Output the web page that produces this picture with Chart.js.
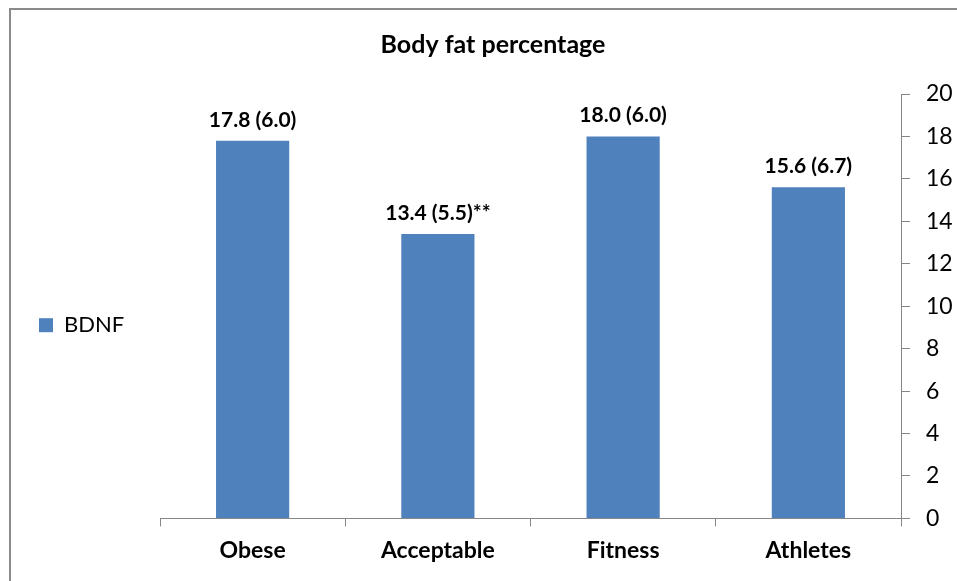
<!DOCTYPE html>
<html>
<head>
<meta charset="utf-8">
<script src="https://cdn.jsdelivr.net/npm/chart.js@4.4.1/dist/chart.umd.min.js"></script>
<style>
  html, body { margin: 0; padding: 0; background: #fff; overflow: hidden; }
  #wrap { position: relative; width: 957px; height: 581px; }
  #frame { position: absolute; left: 9px; top: 8px; width: 2000px; height: 2000px;
           border: 2px solid #8a8a8a; box-sizing: border-box; }
  canvas { position: absolute; left: 0; top: 0; }
</style>
</head>
<body>
<div id="wrap">
  <div id="frame"></div>
  <canvas id="chart" width="957" height="581"></canvas>
</div>
<script>
// Body fat percentage by group: mean (SD)
const categories = ["Obese", "Acceptable", "Fitness", "Athletes"];
const means = [17.8, 13.4, 18.0, 15.6];
const sds = [6.0, 5.5, 6.0, 6.7];
const marks = ["", "**", "", ""];
const yTicks = [0, 2, 4, 6, 8, 10, 12, 14, 16, 18, 20];

const barLabels = means.map((m, i) => m.toFixed(1) + " (" + sds[i].toFixed(1) + ")" + marks[i]);

const axisGray = "#868686";
const LEGEND_WIDTH = 131;   // room between the frame and the plot area
const Y_AXIS_WIDTH = 56;

// Draws "mean (SD)" text above each bar
const valueLabels = {
  id: "valueLabels",
  afterDatasetsDraw(chart) {
    const ctx = chart.ctx;
    const meta = chart.getDatasetMeta(0);
    ctx.save();
    ctx.font = "bold 21px Lato";
    ctx.fillStyle = "#000";
    ctx.textAlign = "center";
    ctx.textBaseline = "alphabetic";
    meta.data.forEach((bar, i) => {
      ctx.fillText(barLabels[i], bar.x, bar.y - 14);
    });
    ctx.restore();
  }
};

const chart = new Chart(document.getElementById("chart"), {
  type: "bar",
  data: {
    labels: categories,
    datasets: [{
      label: "BDNF",
      data: means,
      backgroundColor: "#4F81BD",
      borderWidth: 0,
      barPercentage: 0.395,
      categoryPercentage: 1.0
    }]
  },
  options: {
    responsive: false,
    animation: false,
    devicePixelRatio: 1,
    layout: { padding: { left: 29, right: 0, top: 0, bottom: 7 } },
    plugins: {
      title: {
        display: true,
        text: "Body fat percentage",
        color: "#000",
        font: { family: "Lato", size: 25, weight: "bold" },
        padding: { top: 30, bottom: 34 }
      },
      legend: {
        display: true,
        position: "left",
        title: { display: true, text: "", font: { size: 12 }, padding: { top: 31, bottom: 31 } },
        labels: {
          color: "#000",
          font: { family: "Lato", size: 22 },
          boxWidth: 14,
          boxHeight: 14,
          padding: 10
        }
      },
      tooltip: { enabled: false }
    },
    scales: {
      x: {
        grid: { display: true, drawOnChartArea: false, drawTicks: true, tickLength: 8, color: axisGray, offset: true },
        border: { display: true, color: axisGray, width: 1 },
        ticks: { color: "#000", font: { family: "Lato", size: 23, weight: "bold" }, padding: 10 }
      },
      y: {
        position: "right",
        min: 0,
        max: 20,
        afterBuildTicks(axis) { axis.ticks = yTicks.map(v => ({ value: v })); },
        afterFit(axis) { axis.width = Y_AXIS_WIDTH; },
        grid: { display: true, drawOnChartArea: false, drawTicks: true, tickLength: 9, color: axisGray },
        border: { display: true, color: axisGray, width: 1 },
        ticks: { color: "#000", font: { family: "Lato", size: 23 }, padding: 16 }
      }
    }
  },
  plugins: [valueLabels]
});

// Fixed legend column width so the plot area starts at the same place
const legend = chart.legend;
const baseFit = legend.fit.bind(legend);
legend.fit = function () { baseFit(); this.width = LEGEND_WIDTH; };
chart.update();
</script>
</body>
</html>
